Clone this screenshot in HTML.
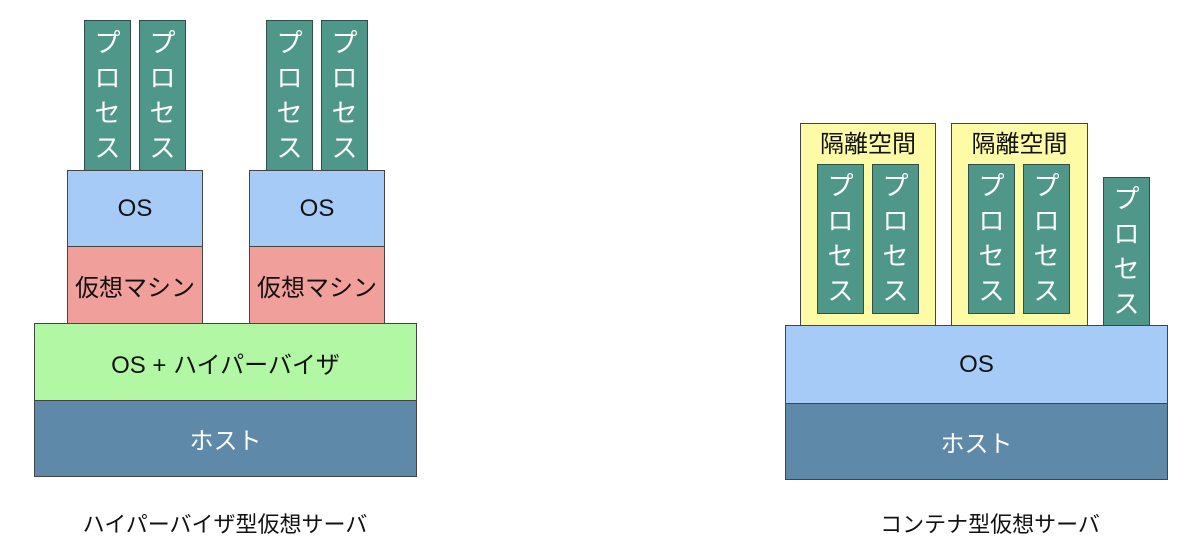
<!DOCTYPE html>
<html><head><meta charset="utf-8"><style>
body{margin:0;width:1200px;height:550px;background:#fff;position:relative;overflow:hidden;font-family:"Liberation Sans","Noto Sans CJK JP",sans-serif;}
.b{position:absolute;box-sizing:border-box;border:1px solid #444;display:flex;align-items:center;justify-content:center;font-size:24px;color:#111;}
.p{background:#4f9788;color:#fff;flex-direction:column;font-size:26px;line-height:35px;border-color:#2f4f48;}
.os{background:#a6cbf7;}
.vm{background:#f19f9a;}
.hv{background:#b2f7a3;}
.host{background:#5f89a8;color:#fff;}
.iso{background:#fdfba6;align-items:flex-start;padding-top:0px;}
.lbl{position:absolute;font-size:22px;color:#111;text-align:center;}
</style></head><body>
<div class="b p" style="left:84px;top:20px;width:47px;height:151px">プ<br>ロ<br>セ<br>ス</div>
<div class="b p" style="left:139px;top:20px;width:47px;height:151px">プ<br>ロ<br>セ<br>ス</div>
<div class="b p" style="left:266px;top:20px;width:47px;height:151px">プ<br>ロ<br>セ<br>ス</div>
<div class="b p" style="left:321px;top:20px;width:47px;height:151px">プ<br>ロ<br>セ<br>ス</div>
<div class="b os" style="left:67px;top:170px;width:136px;height:77px">OS</div>
<div class="b os" style="left:249px;top:170px;width:136px;height:77px">OS</div>
<div class="b vm" style="left:67px;top:246px;width:136px;height:78px">仮想マシン</div>
<div class="b vm" style="left:249px;top:246px;width:136px;height:78px">仮想マシン</div>
<div class="b hv" style="left:34px;top:323px;width:383px;height:78px">OS + ハイパーバイザ</div>
<div class="b host" style="left:34px;top:400px;width:383px;height:77px">ホスト</div>
<div class="lbl" style="left:25px;top:507px;width:400px">ハイパーバイザ型仮想サーバ</div>

<div class="b iso" style="left:800px;top:123px;width:136px;height:203px">隔離空間</div>
<div class="b iso" style="left:951px;top:123px;width:137px;height:203px">隔離空間</div>
<div class="b p" style="left:817px;top:164px;width:47px;height:150px">プ<br>ロ<br>セ<br>ス</div>
<div class="b p" style="left:872px;top:164px;width:47px;height:150px">プ<br>ロ<br>セ<br>ス</div>
<div class="b p" style="left:968px;top:164px;width:47px;height:150px">プ<br>ロ<br>セ<br>ス</div>
<div class="b p" style="left:1023px;top:164px;width:47px;height:150px">プ<br>ロ<br>セ<br>ス</div>
<div class="b p" style="left:1103px;top:177px;width:47px;height:149px">プ<br>ロ<br>セ<br>ス</div>
<div class="b os" style="left:785px;top:325px;width:383px;height:79px">OS</div>
<div class="b host" style="left:785px;top:403px;width:383px;height:77px">ホスト</div>
<div class="lbl" style="left:790px;top:507px;width:400px">コンテナ型仮想サーバ</div>
</body></html>
